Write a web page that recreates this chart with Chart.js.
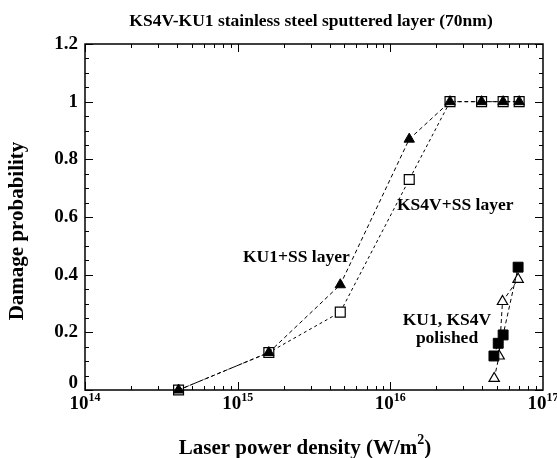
<!DOCTYPE html>
<html lang="en">
<head>
  <meta charset="UTF-8">
  <title>KS4V-KU1 damage probability</title>
  <script src="https://cdn.jsdelivr.net/npm/chart.js"></script>
  <style>
    body { margin: 0; background: white; }
    .chart-box { position: relative; width: 557px; height: 458px; }
  </style>
</head>
<body>
  <div class="chart-box">
    <canvas id="damageChart"></canvas>
  </div>
  <script>
    // Data (x in W/m^2, y = damage probability)
    const ssPowerX = [4.1e14, 1.6e15, 4.7e15, 1.33e16, 2.46e16, 3.96e16, 5.48e16, 6.98e16];
    const ku1SsY   = [0, 0.13, 0.365, 0.87, 1, 1, 1, 1];
    const ks4vSsY  = [0, 0.13, 0.27, 0.73, 1, 1, 1, 1];

    const ku1PolX = [4.77e16, 5.09e16, 5.48e16, 6.87e16];
    const ku1PolY = [0.118, 0.162, 0.191, 0.426];
    const ks4vPolX = [4.79e16, 5.16e16, 5.43e16, 6.87e16];
    const ks4vPolY = [0.04, 0.118, 0.307, 0.384];

    const xExponents = [14, 15, 16, 17];
    const yTicks = [0, 0.2, 0.4, 0.6, 0.8, 1, 1.2];

    const toPoints = (xs, ys) => xs.map((x, i) => ({ x: x, y: ys[i] }));
    const serif = '"Liberation Serif", "DejaVu Serif", serif';

    // Frame, inward ticks, labels and annotations
    const framePlugin = {
      id: 'frame',
      afterDraw(chart) {
        const ctx = chart.ctx;
        const a = chart.chartArea;
        const xs = chart.scales.x;
        const ys = chart.scales.y;
        ctx.save();
        ctx.strokeStyle = '#000';
        ctx.lineWidth = 1.5;
        ctx.strokeRect(a.left, a.top, a.right - a.left, a.bottom - a.top);

        ctx.lineWidth = 1;
        ctx.beginPath();
        // x ticks (major + minor), top and bottom
        for (let e = 14; e < 17; e++) {
          for (let m = 1; m <= 9; m++) {
            const px = Math.round(xs.getPixelForValue(m * Math.pow(10, e))) + 0.5;
            const len = m === 1 ? 8 : 4;
            ctx.moveTo(px, a.bottom); ctx.lineTo(px, a.bottom - len);
            ctx.moveTo(px, a.top); ctx.lineTo(px, a.top + len);
          }
        }
        // y ticks every 0.05, major every 0.2
        for (let i = 0; i <= 24; i++) {
          const v = i * 0.05;
          const py = Math.round(ys.getPixelForValue(v)) + 0.5;
          const len = i % 4 === 0 ? 8 : 4;
          ctx.moveTo(a.left, py); ctx.lineTo(a.left + len, py);
          ctx.moveTo(a.right, py); ctx.lineTo(a.right - len, py);
        }
        ctx.stroke();

        ctx.fillStyle = '#000';
        // y tick labels (the 0 is lifted a little to clear the x labels)
        ctx.font = 'bold 19px ' + serif;
        ctx.textAlign = 'right';
        ctx.textBaseline = 'middle';
        yTicks.forEach(v => {
          const lift = v === 0 ? 7 : 0;
          ctx.fillText(String(v), a.left - 7, ys.getPixelForValue(v) - lift);
        });

        // x tick labels 10^n
        xExponents.forEach(e => {
          const px = xs.getPixelForValue(Math.pow(10, e));
          ctx.font = 'bold 19px ' + serif;
          const baseW = ctx.measureText('10').width;
          ctx.font = 'bold 12px ' + serif;
          const expW = ctx.measureText(String(e)).width;
          const left = px - (baseW + expW) / 2;
          ctx.textAlign = 'left';
          ctx.textBaseline = 'alphabetic';
          ctx.font = 'bold 19px ' + serif;
          ctx.fillText('10', left, a.bottom + 19);
          ctx.font = 'bold 12px ' + serif;
          ctx.fillText(String(e), left + baseW, a.bottom + 11);
        });

        // chart title
        ctx.font = 'bold 17.5px ' + serif;
        ctx.textAlign = 'center';
        ctx.textBaseline = 'alphabetic';
        ctx.fillText('KS4V-KU1 stainless steel sputtered layer (70nm)', 311, 26);

        // x axis title with superscript
        ctx.font = 'bold 21px ' + serif;
        const t1 = 'Laser power density (W/m';
        const w1 = ctx.measureText(t1).width;
        const w3 = ctx.measureText(')').width;
        ctx.font = 'bold 14px ' + serif;
        const w2 = ctx.measureText('2').width;
        let tx = 305 - (w1 + w2 + w3) / 2;
        ctx.textAlign = 'left';
        ctx.fillText('2', tx + w1, 444);
        ctx.font = 'bold 21px ' + serif;
        ctx.fillText(t1, tx, 454);
        ctx.fillText(')', tx + w1 + w2, 454);

        // y axis title
        ctx.save();
        ctx.translate(18, 231);
        ctx.rotate(-Math.PI / 2);
        ctx.textAlign = 'center';
        ctx.textBaseline = 'middle';
        ctx.font = 'bold 21px ' + serif;
        ctx.fillText('Damage probability', 0, 0);
        ctx.restore();

        // annotations
        ctx.font = 'bold 17.5px ' + serif;
        ctx.textAlign = 'left';
        ctx.textBaseline = 'middle';
        ctx.fillText('KU1+SS layer', 243, 257);
        ctx.fillText('KS4V+SS layer', 397, 205);
        ctx.textAlign = 'center';
        ctx.fillText('KU1, KS4V', 447, 320);
        ctx.fillText('polished', 447, 338);
        ctx.restore();
      }
    };

    const ctx = document.getElementById('damageChart').getContext('2d');
    new Chart(ctx, {
      type: 'scatter',
      data: {
        datasets: [
          {
            label: 'KU1+SS layer',
            data: toPoints(ssPowerX, ku1SsY),
            showLine: true,
            borderColor: '#000',
            borderWidth: 1,
            borderDash: [4, 3],
            pointStyle: 'triangle',
            pointRadius: 6,
            pointBackgroundColor: '#000',
            pointBorderColor: '#000',
            pointBorderWidth: 1
          },
          {
            label: 'KS4V+SS layer',
            data: toPoints(ssPowerX, ks4vSsY),
            showLine: true,
            borderColor: '#000',
            borderWidth: 1,
            borderDash: [3, 3],
            pointStyle: 'rect',
            pointRadius: 7,
            pointBackgroundColor: '#fff',
            pointBorderColor: '#000',
            pointBorderWidth: 1.2
          },
          {
            label: 'KU1 polished',
            data: toPoints(ku1PolX, ku1PolY),
            showLine: true,
            borderColor: '#000',
            borderWidth: 1,
            borderDash: [4, 3],
            pointStyle: 'rect',
            pointRadius: 7,
            pointBackgroundColor: '#000',
            pointBorderColor: '#000',
            pointBorderWidth: 1
          },
          {
            label: 'KS4V polished',
            data: toPoints(ks4vPolX, ks4vPolY),
            showLine: true,
            borderColor: '#000',
            borderWidth: 1,
            borderDash: [4, 3],
            pointStyle: 'triangle',
            pointRadius: 6,
            pointBackgroundColor: '#fff',
            pointBorderColor: '#000',
            pointBorderWidth: 1.2
          }
        ]
      },
      options: {
        responsive: true,
        maintainAspectRatio: false,
        animation: false,
        clip: false,
        layout: { padding: { left: 85, right: 14, top: 44, bottom: 68 } },
        plugins: {
          legend: { display: false },
          title: { display: false },
          tooltip: { enabled: false }
        },
        scales: {
          x: {
            type: 'logarithmic',
            display: false,
            min: 1e14,
            max: 1e17
          },
          y: {
            display: false,
            min: 0,
            max: 1.2
          }
        }
      },
      plugins: [framePlugin]
    });
  </script>
</body>
</html>
